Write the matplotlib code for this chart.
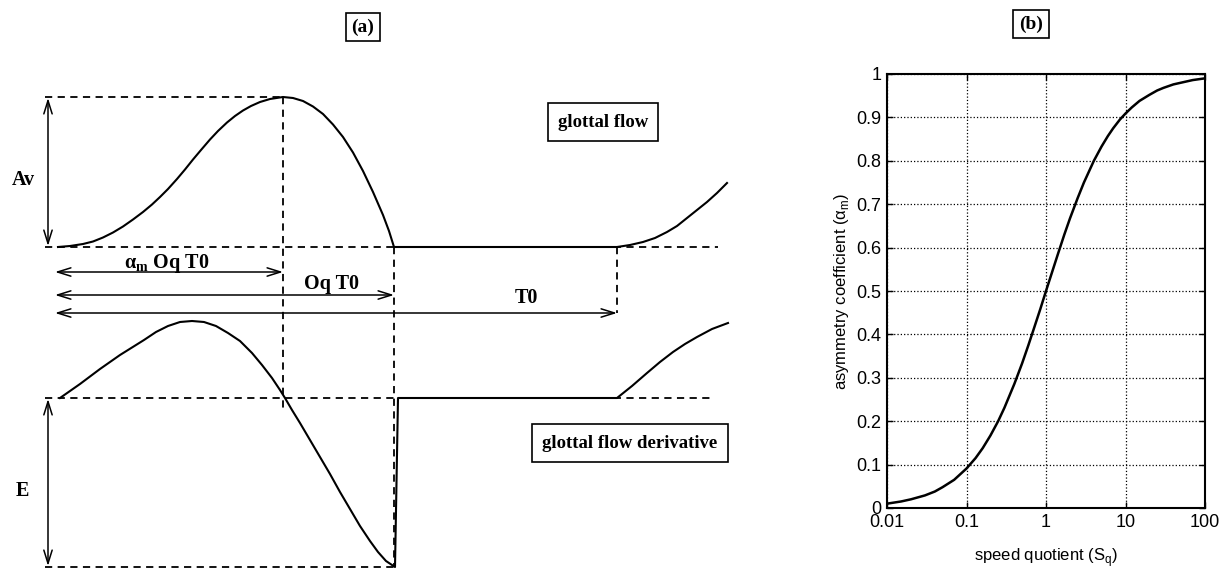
import numpy as np
import matplotlib
matplotlib.use("Agg")
import matplotlib.pyplot as plt

# (a) schematic, coordinates (pixel-like units, y down)
flow_x = [58, 70, 83, 93, 103, 113, 123, 133, 143, 152, 160, 168, 177, 185, 193,
          201, 210, 218, 227, 235, 243, 251, 260, 270, 283,
          293, 303, 313, 323, 333, 343, 353, 363, 373, 383, 389, 394,
          617, 630, 643, 655, 667, 677, 687, 697, 707, 717, 727]
flow_y = [247, 246, 244, 241.5, 237.5, 232.5, 226.5, 219.5, 212, 204.5, 197, 189,
          179, 169.5, 159.5, 150, 139.5, 131, 122.5, 116, 110.5, 106, 102, 99, 97,
          98, 101, 106.5, 114, 124.5, 137, 152.5, 171, 192, 215, 231, 247,
          247, 245, 242, 238, 232, 226, 218, 210, 202, 193, 183]

deriv_x = [60, 80, 100, 120, 144, 156, 168, 180, 192, 204, 216, 228, 240, 252,
           262, 272, 280, 285, 292, 300, 310, 320, 330, 340, 350, 360, 370, 378,
           386, 395, 398, 617, 632, 647, 660, 673, 685, 697, 712, 728]
deriv_y = [398, 384, 369, 355, 340, 332, 326, 322, 321, 322, 326, 333, 341, 353,
           365, 378, 390, 398, 410, 423, 440, 457, 474, 492, 509, 526, 541, 552,
           561, 567, 398, 398, 386, 373, 362, 352, 344, 337, 329, 323]

t_start, t_peak, t_close, t_end = 55, 283, 394, 617
flow_top, flow_base = 97, 247
deriv_zero, deriv_min = 398, 567

# (b) asymmetry coefficient vs speed quotient
sq = [0.01, 0.015, 0.02, 0.03, 0.04, 0.05, 0.07, 0.1, 0.13, 0.16, 0.2, 0.25, 0.3,
      0.4, 0.5, 0.6, 0.7, 0.85, 1, 1.2, 1.4, 1.7, 2, 2.5, 3, 4, 5, 6, 7, 8.5, 10,
      12, 15, 20, 25, 30, 40, 50, 70, 100]
alpha_m = [0.01, 0.015, 0.02, 0.029, 0.038, 0.048, 0.065, 0.091, 0.115, 0.138,
           0.167, 0.2, 0.231, 0.286, 0.333, 0.375, 0.412, 0.459, 0.5, 0.545,
           0.583, 0.63, 0.667, 0.714, 0.75, 0.8, 0.833, 0.857, 0.875, 0.895,
           0.909, 0.923, 0.938, 0.952, 0.962, 0.968, 0.976, 0.98, 0.986, 0.99]
yticks = [0, 0.1, 0.2, 0.3, 0.4, 0.5, 0.6, 0.7, 0.8, 0.9, 1]
ytick_labels = ['0', '0.1', '0.2', '0.3', '0.4', '0.5', '0.6', '0.7', '0.8', '0.9', '1']
xticks = [0.01, 0.1, 1, 10, 100]
xtick_labels = ['0.01', '0.1', '1', '10', '100']

serif = 'Liberation Serif'
sans = 'Liberation Sans'

fig = plt.figure(figsize=(12.29, 5.69), dpi=100)

ax = fig.add_axes([0, 0, 1, 1])
ax.set_xlim(0, 1229)
ax.set_ylim(569, 0)
ax.axis('off')

dash = dict(color='black', lw=1.3, ls=(0, (4, 3)))
ax.plot(flow_x, flow_y, color='black', lw=1.5)
ax.plot(deriv_x, deriv_y, color='black', lw=1.5)

# guide lines
ax.plot([45, t_peak], [flow_top, flow_top], **dash)
ax.plot([45, 718], [flow_base, flow_base], **dash)
ax.plot([45, 710], [deriv_zero, deriv_zero], **dash)
ax.plot([45, t_close], [deriv_min, deriv_min], **dash)
ax.plot([t_peak, t_peak], [flow_top, 412], **dash)
ax.plot([t_close, t_close], [flow_base, deriv_min], **dash)
ax.plot([t_end, t_end], [flow_base, 313], **dash)

arrow = dict(arrowstyle='<->,head_length=0.8,head_width=0.25', lw=1.1,
             color='black', shrinkA=0, shrinkB=0, mutation_scale=12)
ax.annotate('', xy=(48, flow_top + 1), xytext=(48, flow_base - 1), arrowprops=arrow)
ax.annotate('', xy=(48, deriv_zero + 1), xytext=(48, deriv_min - 1), arrowprops=arrow)
ax.annotate('', xy=(t_peak, 272), xytext=(t_start, 272), arrowprops=arrow)
ax.annotate('', xy=(t_close, 295), xytext=(t_start, 295), arrowprops=arrow)
ax.annotate('', xy=(t_end, 313), xytext=(t_start, 313), arrowprops=arrow)

tkw = dict(family=serif, weight='bold', fontsize=14.5, ha='center', va='center')
ax.text(23, 180, 'Av', **tkw)
ax.text(22, 491, 'E', **tkw)
ax.text(167, 263, r'α$_\mathregular{m}$ Oq T0', **tkw)
ax.text(331, 284, 'Oq T0', **tkw)
ax.text(526, 298, 'T0', **tkw)

box = dict(boxstyle='square,pad=0.55', fc='white', ec='black', lw=1.2)
ax.text(603, 122, 'glottal flow', family=serif, weight='bold', fontsize=13.5,
        ha='center', va='center', bbox=box)
ax.text(630, 443, 'glottal flow derivative', family=serif, weight='bold',
        fontsize=13.5, ha='center', va='center', bbox=box)
pbox = dict(boxstyle='square,pad=0.3', fc='white', ec='black', lw=1.2)
ax.text(363, 27, '(a)', family=serif, weight='bold', fontsize=14,
        ha='center', va='center', bbox=pbox)
ax.text(1031, 24, '(b)', family=serif, weight='bold', fontsize=14,
        ha='center', va='center', bbox=pbox)

# (b)
axb = fig.add_axes([887 / 1229, 61 / 569, 318 / 1229, 434 / 569])
axb.plot(sq, alpha_m, color='black', lw=1.8)
axb.set_xscale('log')
axb.set_xlim(0.01, 100)
axb.set_ylim(0, 1)
axb.set_xticks(xticks)
axb.set_xticklabels(xtick_labels)
axb.set_yticks(yticks)
axb.set_yticklabels(ytick_labels)
axb.minorticks_off()
axb.grid(True, color='black', ls=':', lw=0.9)
axb.tick_params(direction='in', length=4, width=1, top=True, right=True,
                labelsize=13, pad=4)
for lab in axb.get_xticklabels() + axb.get_yticklabels():
    lab.set_family(sans)
for sp in axb.spines.values():
    sp.set_linewidth(1.5)
axb.set_xlabel(r'speed quotient (S$_\mathregular{q}$)', family=sans, fontsize=12,
               labelpad=11)
axb.set_ylabel(r'asymmetry coefficient (α$_\mathregular{m}$)', family=sans,
               fontsize=12, labelpad=4)

fig.savefig('out.png', dpi=100)
